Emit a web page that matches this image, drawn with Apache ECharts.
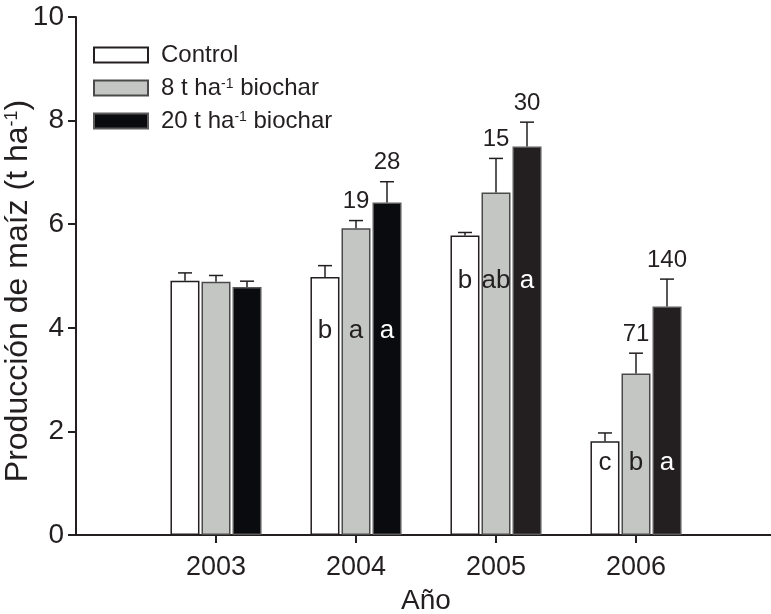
<!DOCTYPE html>
<html>
<head>
<meta charset="utf-8">
<script src="https://cdn.jsdelivr.net/npm/echarts@6/dist/echarts.min.js"></script>
<style>html,body{margin:0;padding:0;background:#fff;}#c{width:771px;height:614px;}</style>
</head>
<body>
<div id="c"></div>
<script>
// ---- data ----
var years = [2003, 2004, 2005, 2006];
var seriesNames = ['Control', '8 t ha-1 biochar', '20 t ha-1 biochar'];
var control = [4.91, 4.98, 5.78, 1.81];
var controlErr = [0.15, 0.22, 0.06, 0.16];
var bio8 = [4.89, 5.92, 6.61, 3.12];
var bio8Err = [0.12, 0.15, 0.66, 0.39];
var bio20 = [4.79, 6.42, 7.50, 4.41];
var bio20Err = [0.11, 0.40, 0.47, 0.53];
var pctControl = ['', '', '', ''];
var pct8 = ['', '19', '15', '71'];
var pct20 = ['', '28', '30', '140'];
var lettersControl = ['', 'b', 'b', 'c'];
var letters8 = ['', 'a', 'ab', 'b'];
var letters20 = ['', 'a', 'a', 'a'];
var letterLevel = [0, 3.95, 4.9, 1.4];
var xTicks = [2003, 2004, 2005, 2006];

// ---- styles ----
var FONT = 'Liberation Sans, Arial, sans-serif';
var INK = '#231f20';
var barW = 29;
var offsets = [-31, 0, 31];
var fills = [
  ['#ffffff', '#ffffff', '#ffffff', '#ffffff'],
  ['#c4c6c4', '#c4c6c4', '#c4c6c4', '#c4c6c4'],
  ['#0a0b0f', '#0a0b0f', '#231f20', '#231f20']
];
var borders = [INK, '#4a4a4a', '#5a5a5a'];
var letterColors = [INK, INK, '#ffffff'];

var values = [control, bio8, bio20];
var errs = [controlErr, bio8Err, bio20Err];
var pcts = [pctControl, pct8, pct20];
var letters = [lettersControl, letters8, letters20];

var series = [];
values.forEach(function (vals, s) {
  series.push({
    name: seriesNames[s],
    type: 'bar',
    barWidth: barW,
    barGap: '7%',
    itemStyle: { color: fills[s][0], borderColor: borders[s], borderWidth: 1.5 },
    data: years.map(function (y, i) {
      return { value: [y, vals[i]], itemStyle: { color: fills[s][i] } };
    }),
    z: 2
  });
});
values.forEach(function (vals, s) {
  series.push({
    type: 'custom',
    silent: true,
    z: 5,
    data: years.map(function (y, i) { return [y, vals[i], errs[s][i], i]; }),
    renderItem: function (params, api) {
      var y = api.value(0), v = api.value(1), e = api.value(2), i = api.value(3);
      var top = api.coord([y, v]);
      var cap = api.coord([y, v + e]);
      var lp = api.coord([y, letterLevel[i]]);
      var x = top[0] + offsets[s];
      var children = [
        { type: 'line', shape: { x1: x, y1: top[1], x2: x, y2: cap[1] }, style: { stroke: INK, lineWidth: 1.5 } },
        { type: 'line', shape: { x1: x - 7, y1: cap[1], x2: x + 7, y2: cap[1] }, style: { stroke: INK, lineWidth: 1.5 } }
      ];
      if (pcts[s][i]) {
        children.push({ type: 'text', style: { text: pcts[s][i], x: x, y: cap[1] - 19, align: 'center', verticalAlign: 'middle', font: '24px ' + FONT, fill: INK } });
      }
      if (letters[s][i]) {
        children.push({ type: 'text', style: { text: letters[s][i], x: x, y: lp[1], align: 'center', verticalAlign: 'middle', font: '26px ' + FONT, fill: letterColors[s] } });
      }
      return { type: 'group', children: children };
    }
  });
});

var chart = echarts.init(document.getElementById('c'), null, { renderer: 'canvas' });
chart.setOption({
  animation: false,
  backgroundColor: '#ffffff',
  textStyle: { fontFamily: FONT, color: INK },
  grid: { left: 76, right: -5, top: 17, bottom: 79, containLabel: false, outerBoundsMode: 'none' },
  legend: {
    orient: 'vertical',
    left: 93,
    top: 43,
    padding: 0,
    itemWidth: 54,
    itemHeight: 15,
    itemGap: 9,
    icon: 'rect',
    data: seriesNames,
    formatter: function (n) {
      if (n === 'Control') return '{a|Control}';
      var parts = n.split('-1');
      return '{a|' + parts[0] + '}{s|-1}{a|' + parts[1] + '}';
    },
    textStyle: {
      padding: [0, 0, 0, 8],
      rich: {
        a: { fontSize: 24, lineHeight: 24, fontFamily: FONT, color: INK },
        s: { fontSize: 14, fontFamily: FONT, color: INK, verticalAlign: 'bottom', padding: [0, 0, 9, 0] }
      }
    }
  },
  xAxis: {
    type: 'value',
    min: 2002,
    max: 2007,
    interval: 1,
    splitLine: { show: false },
    axisLine: { lineStyle: { color: INK, width: 2 } },
    axisTick: { show: true, customValues: xTicks, length: 8, lineStyle: { color: INK, width: 2 } },
    axisLabel: { customValues: xTicks, fontSize: 27, color: INK, fontFamily: FONT, margin: 19, formatter: function (v) { return String(v); } },
    name: 'Año',
    nameLocation: 'middle',
    nameGap: 52,
    nameMoveOverlap: false,
    nameTextStyle: { fontSize: 28, color: INK, fontFamily: FONT }
  },
  yAxis: {
    type: 'value',
    min: 0,
    max: 10,
    interval: 2,
    splitLine: { show: false },
    axisLine: { show: true, lineStyle: { color: INK, width: 2 } },
    axisTick: { show: true, length: 8, lineStyle: { color: INK, width: 2 } },
    axisLabel: { fontSize: 28, color: INK, fontFamily: FONT, margin: 12 },
    name: '{a|Producción de maíz (t ha}{s|-1}{a|)}',
    nameLocation: 'middle',
    nameRotate: 90,
    nameGap: 42,
    nameMoveOverlap: false,
    nameTextStyle: {
      padding: [0, 30, 0, 0],
      rich: {
        a: { fontSize: 32, fontFamily: FONT, color: INK },
        s: { fontSize: 18, fontFamily: FONT, color: INK, verticalAlign: 'bottom', padding: [0, 0, 13, 0] }
      }
    }
  },
  series: series
});
</script>
</body>
</html>
